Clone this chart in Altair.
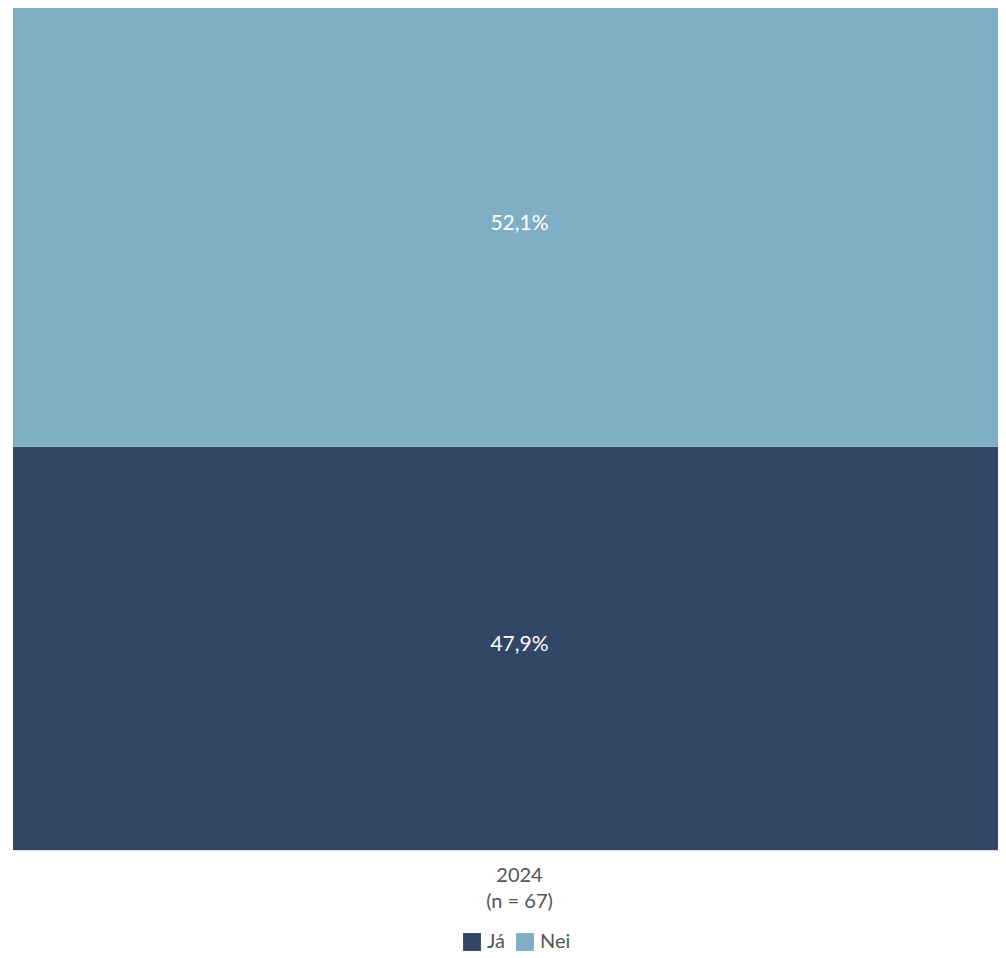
import altair as alt
import pandas as pd

years = ["2024"]
n_values = [67]
answers = ["Já", "Nei"]
shares = [47.9, 52.1]
colors = ["#324666", "#80AEC4"]

cats = [f"{y}\n(n = {n})" for y, n in zip(years, n_values)]
df = pd.DataFrame({
    "cat": [cats[0]] * len(answers),
    "answer": answers,
    "share": shares,
    "order": list(range(len(answers))),
})
df["label"] = df["share"].map(lambda v: f"{v:.1f}".replace(".", ",") + "%")

FONT = "Lato"

base = alt.Chart(df)

x_enc = alt.X(
    "cat:N",
    title=None,
    scale=alt.Scale(paddingInner=0, paddingOuter=0),
    axis=alt.Axis(
        labelExpr="split(datum.value, '\\n')",
        labelAngle=0,
        labelFontSize=20,
        labelColor="#555555",
        labelFont=FONT,
        labelLineHeight=26,
        labelPadding=15,
        labelOffset=14,
        ticks=False,
        domain=False,
    ),
)

bars = base.mark_bar(strokeWidth=0).encode(
    x=x_enc,
    y=alt.Y(
        "share:Q",
        stack="zero",
        scale=alt.Scale(domain=[0, 100], nice=False),
        axis=alt.Axis(title=None, labels=False, ticks=False, grid=False,
                      domain=True, domainColor="#dddddd"),
    ),
    color=alt.Color(
        "answer:N",
        scale=alt.Scale(domain=answers, range=colors),
        legend=alt.Legend(
            title=None,
            orient="none",
            legendX=449,
            legendY=924,
            direction="horizontal",
            symbolType="square",
            symbolSize=320,
            symbolStrokeWidth=0,
            labelFontSize=20,
            labelColor="#555555",
            labelFont=FONT,
            labelOffset=5,
            columnPadding=10,
            symbolOffset=0,
        ),
    ),
    order=alt.Order("order:Q"),
)

texts = base.transform_stack(
    stack="share", groupby=["cat"], as_=["y0", "y1"], sort=[alt.SortField("order")]
).transform_calculate(
    mid="(datum.y0 + datum.y1) / 2"
).mark_text(color="white", fontSize=21, font=FONT, dx=14, dy=-3).encode(
    x=alt.X("cat:N"),
    y=alt.Y("mid:Q"),
    text="label:N",
)

chart = (bars + texts).properties(
    width=985,
    height=842,
    padding={"left": 5, "top": 0, "right": 0, "bottom": 0},
).configure_view(stroke=None).configure(font=FONT)

chart.save("out.html", embed_options={"renderer": "svg", "actions": False})
